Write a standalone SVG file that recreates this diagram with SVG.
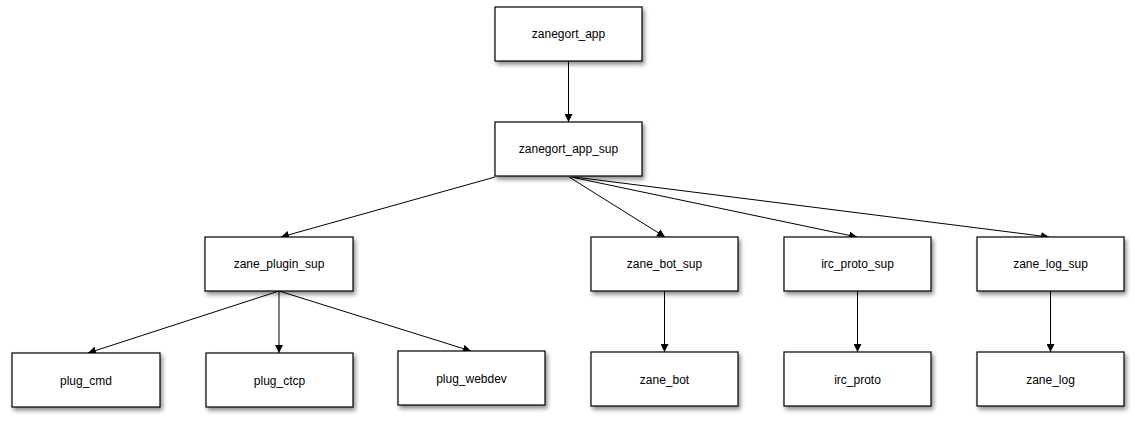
<svg xmlns="http://www.w3.org/2000/svg" width="1135" height="424" viewBox="0 0 1135 424">
<style>
.box{fill:#fff;stroke:#000;stroke-width:1.2;filter:url(#sh)}
.lbl{font-family:"Liberation Sans",Arial,sans-serif;font-size:12px;fill:#000;text-anchor:middle;dominant-baseline:central}
.edge{stroke:#000;stroke-width:1;fill:none;marker-end:url(#ah)}
</style>
<defs>
<filter id="sh" x="-10%" y="-20%" width="130%" height="150%">
<feDropShadow dx="2" dy="3" stdDeviation="2" flood-color="#000" flood-opacity="0.45"/>
</filter>
<marker id="ah" viewBox="0 0 10 10" refX="10" refY="5" markerWidth="8" markerHeight="8" markerUnits="userSpaceOnUse" orient="auto">
<path d="M0,0 L10,5 L0,10 z" fill="#000"/>
</marker>
</defs>
<rect width="1135" height="424" fill="#fff"/>
<g id="connectors">
<line class="edge" x1="568.5" y1="61" x2="568.5" y2="122"/>
<line class="edge" x1="495" y1="177" x2="281" y2="237"/>
<line class="edge" x1="569" y1="177" x2="665" y2="237"/>
<line class="edge" x1="571" y1="177" x2="857" y2="237"/>
<line class="edge" x1="574" y1="177" x2="1049" y2="237"/>
<line class="edge" x1="279" y1="291" x2="88" y2="353"/>
<line class="edge" x1="279" y1="291" x2="279" y2="353"/>
<line class="edge" x1="279" y1="291" x2="471" y2="351"/>
<line class="edge" x1="664.5" y1="291" x2="664.5" y2="352"/>
<line class="edge" x1="857.5" y1="291" x2="857.5" y2="352"/>
<line class="edge" x1="1050.5" y1="291" x2="1050.5" y2="352"/>
</g>
<g id="zanegort_app"><rect class="box" x="495" y="7" width="147" height="54"/><text class="lbl" x="568.5" y="34">zanegort_app</text></g>
<g id="zanegort_app_sup"><rect class="box" x="495" y="122" width="147" height="54"/><text class="lbl" x="568.5" y="149">zanegort_app_sup</text></g>
<g id="zane_plugin_sup"><rect class="box" x="205" y="237" width="148" height="54"/><text class="lbl" x="279" y="264">zane_plugin_sup</text></g>
<g id="zane_bot_sup"><rect class="box" x="591" y="237" width="147" height="54"/><text class="lbl" x="664.5" y="264">zane_bot_sup</text></g>
<g id="irc_proto_sup"><rect class="box" x="784" y="237" width="147" height="54"/><text class="lbl" x="857.5" y="264">irc_proto_sup</text></g>
<g id="zane_log_sup"><rect class="box" x="977" y="237" width="147" height="54"/><text class="lbl" x="1050.5" y="264">zane_log_sup</text></g>
<g id="plug_cmd"><rect class="box" x="12" y="353" width="148" height="54"/><text class="lbl" x="86" y="381">plug_cmd</text></g>
<g id="plug_ctcp"><rect class="box" x="206" y="353" width="147" height="54"/><text class="lbl" x="279.5" y="381">plug_ctcp</text></g>
<g id="plug_webdev"><rect class="box" x="398" y="351" width="147" height="54"/><text class="lbl" x="471.5" y="379">plug_webdev</text></g>
<g id="zane_bot"><rect class="box" x="591" y="352" width="147" height="54"/><text class="lbl" x="664.5" y="380">zane_bot</text></g>
<g id="irc_proto"><rect class="box" x="784" y="352" width="147" height="54"/><text class="lbl" x="857.5" y="380">irc_proto</text></g>
<g id="zane_log"><rect class="box" x="977" y="352" width="147" height="54"/><text class="lbl" x="1050.5" y="380">zane_log</text></g>
</svg>
